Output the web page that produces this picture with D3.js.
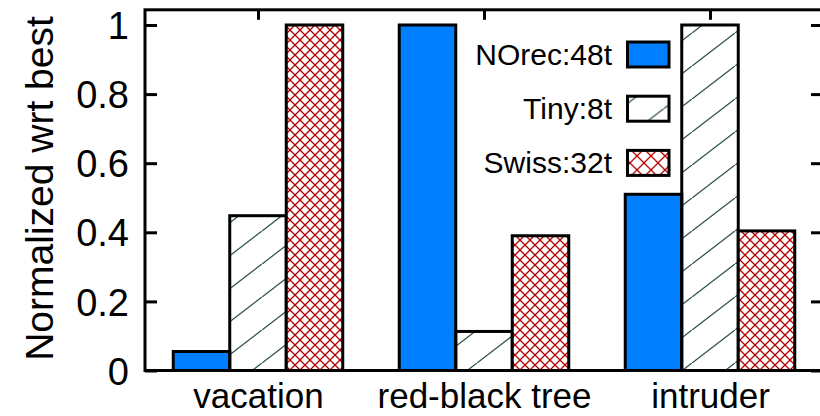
<!DOCTYPE html>
<html>
<head>
<meta charset="utf-8">
<script src="https://cdn.jsdelivr.net/npm/d3@7"></script>
<style>
  html, body { margin: 0; padding: 0; background: #fff; }
  svg { display: block; font-family: "Liberation Sans", Arial, Helvetica, sans-serif; }
</style>
</head>
<body>
<svg id="chart" width="820" height="416"></svg>
<script>
// Benchmarks and the best configuration of each STM, normalized to the best one
const categories = ["vacation", "red-black tree", "intruder"];
const seriesNames = ["NOrec:48t", "Tiny:8t", "Swiss:32t"];
const norecValues = [0.055, 1.0, 0.51];
const tinyValues = [0.448, 0.113, 1.0];
const swissValues = [1.0, 0.39, 0.404];
const yTickValues = [0, 0.2, 0.4, 0.6, 0.8, 1];
const yTickLabels = ["0", "0.2", "0.4", "0.6", "0.8", "1"];
const yLabel = "Normalized wrt best";

const series = [
  { name: seriesNames[0], values: norecValues, fill: "#0080ff" },
  { name: seriesNames[1], values: tinyValues, fill: "url(#hatch)" },
  { name: seriesNames[2], values: swissValues, fill: "url(#cross)" }
];

const svg = d3.select("#chart");

const left = 145, right = 823, bottom = 370.5;
const x = d3.scaleLinear().domain([-0.5, categories.length - 0.5]).range([left, right]);
const y = d3.scaleLinear().domain([0, 1]).range([bottom, 25]);
const yTop = 1.044;
const barW = 0.25;

// fill patterns
const defs = svg.append("defs");
function hatch(id, offsetX) {
  const p = defs.append("pattern").attr("id", id)
    .attr("patternUnits", "userSpaceOnUse")
    .attr("x", offsetX).attr("y", 0)
    .attr("width", 43).attr("height", 33);
  p.append("line").attr("x1", -1).attr("y1", 33 + 0.77).attr("x2", 44).attr("y2", -0.77)
    .attr("stroke", "#2f4f4f").attr("stroke-width", 1.3);
}
hatch("hatch", 4);
hatch("hatchKey", 18.7);

function cross(id, size) {
  const p = defs.append("pattern").attr("id", id)
    .attr("patternUnits", "userSpaceOnUse")
    .attr("width", size).attr("height", size);
  p.append("rect").attr("width", size).attr("height", size).attr("fill", "#fff");
  p.append("path")
    .attr("d", `M0,0L${size},${size}M0,${size}L${size},0M${-size/2},${size/2}L${size/2},${-size/2}M${size/2},${size*1.5}L${size*1.5},${size/2}`)
    .attr("stroke", "#b40000").attr("stroke-width", 1.3).attr("fill", "none");
}
cross("cross", 10);
cross("crossKey", 14);

// bars
series.forEach((s, si) => {
  svg.append("g").selectAll("rect")
    .data(s.values)
    .join("rect")
    .attr("x", (d, i) => x(i + (si - 1.5) * barW))
    .attr("width", x(barW) - x(0))
    .attr("y", d => y(d))
    .attr("height", d => y(0) - y(d))
    .attr("fill", s.fill)
    .attr("stroke", "#000")
    .attr("stroke-width", 3);
});

// frame
svg.append("rect")
  .attr("x", x(-0.5)).attr("y", y(yTop))
  .attr("width", x(categories.length - 0.5) - x(-0.5))
  .attr("height", y(0) - y(yTop))
  .attr("fill", "none").attr("stroke", "#000").attr("stroke-width", 3);

// axes
const yAxis = d3.axisLeft(y).tickValues(yTickValues)
  .tickFormat((d, i) => yTickLabels[i])
  .tickSizeInner(-12).tickSizeOuter(0).tickPadding(16);
const gy = svg.append("g").attr("transform", `translate(${left},0)`).call(yAxis);

const yAxisR = d3.axisRight(y).tickValues(yTickValues).tickFormat("")
  .tickSizeInner(-12).tickSizeOuter(0);
const gyr = svg.append("g").attr("transform", `translate(${right},0)`).call(yAxisR);

const catIdx = categories.map((c, i) => i);
const xAxisTop = d3.axisTop(x).tickValues(catIdx).tickFormat("")
  .tickSizeInner(-10).tickSizeOuter(0);
const gxt = svg.append("g").attr("transform", `translate(0,${y(yTop)})`).call(xAxisTop);

const xAxis = d3.axisBottom(x).tickValues(catIdx)
  .tickFormat(i => categories[i])
  .tickSizeInner(0).tickSizeOuter(0).tickPadding(13);
const gx = svg.append("g").attr("transform", `translate(0,${bottom})`).call(xAxis);

[gy, gyr, gxt, gx].forEach(g => {
  g.select(".domain").remove();
  g.selectAll(".tick line").attr("stroke", "#000").attr("stroke-width", 3);
  g.selectAll("text").attr("fill", "#000").attr("font-family", null);
});
gy.attr("font-size", null).selectAll("text").attr("font-size", 38).attr("dy", "0.36em");
gx.attr("font-size", null).selectAll("text").attr("font-size", 35);

// y axis title
svg.append("text")
  .attr("transform", "translate(53,188.5) rotate(-90)")
  .attr("text-anchor", "middle")
  .attr("font-size", 39)
  .attr("fill", "#000")
  .text(yLabel);

// legend
const keyFills = ["#0080ff", "url(#hatchKey)", "url(#crossKey)"];
const legend = svg.append("g");
const rows = legend.selectAll("g").data(series).join("g")
  .attr("transform", (d, i) => `translate(0,${54.5 + i * 54.2})`);
rows.append("text")
  .attr("x", 612).attr("y", 0).attr("dy", "0.35em")
  .attr("text-anchor", "end").attr("font-size", 30).attr("fill", "#000")
  .text(d => d.name);
rows.append("rect")
  .attr("x", 627.5).attr("y", -12.5).attr("width", 41.5).attr("height", 25)
  .attr("fill", (d, i) => keyFills[i])
  .attr("stroke", "#000").attr("stroke-width", 3);
</script>
</body>
</html>
